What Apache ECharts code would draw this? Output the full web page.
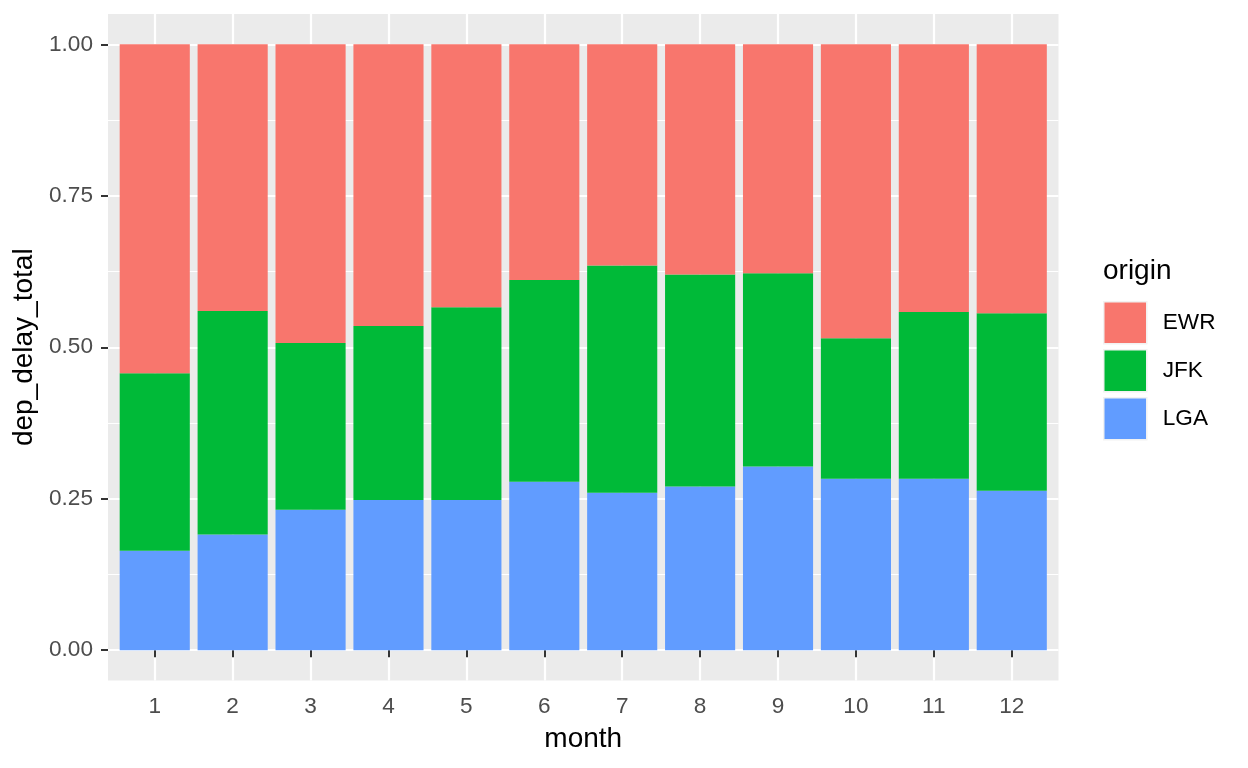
<!DOCTYPE html>
<html>
<head>
<meta charset="utf-8">
<script src="https://cdn.jsdelivr.net/npm/echarts@6/dist/echarts.min.js"></script>
<style>
html, body { margin: 0; padding: 0; background: #fff; }
#chart { width: 1248px; height: 768px; }
</style>
</head>
<body>
<div id="chart"></div>
<script>
// data (share of dep_delay_total per origin)
var months = ['1', '2', '3', '4', '5', '6', '7', '8', '9', '10', '11', '12'];
var monthTicks = [1, 2, 3, 4, 5, 6, 7, 8, 9, 10, 11, 12];
var origins = ['EWR', 'JFK', 'LGA'];
var lga = [0.164, 0.191, 0.232, 0.248, 0.248, 0.278, 0.260, 0.270, 0.303, 0.283, 0.283, 0.263];
var jfk = [0.293, 0.369, 0.275, 0.287, 0.318, 0.333, 0.375, 0.350, 0.319, 0.232, 0.275, 0.293];
var ewr = [0.543, 0.440, 0.493, 0.465, 0.434, 0.389, 0.365, 0.380, 0.378, 0.485, 0.442, 0.444];
var yMajor = [0, 0.25, 0.5, 0.75, 1];
var yMinor = [0.125, 0.375, 0.625, 0.875];

var colors = { EWR: '#F8766D', JFK: '#00BA38', LGA: '#619CFF' };
var font = '"Liberation Sans", Arial, sans-serif';

// panel geometry (ggplot expands discrete x by 0.6, continuous y by 5%)
var panelLeft = 108, panelTop = 14, panelWidth = 950.5, panelHeight = 666.5;
var unit = panelWidth / (months.length + 0.2);
var innerLeft = panelLeft + 0.1 * unit;
var innerWidth = unit * months.length;

var myChart = echarts.init(document.getElementById('chart'));

var option = {
    animation: false,
    backgroundColor: '#ffffff',
    title: {
        text: 'origin',
        left: 1103,
        top: 257,
        padding: 0,
        textStyle: { fontFamily: font, fontSize: 28, fontWeight: 'normal', color: '#000' }
    },
    legend: {
        data: origins,
        orient: 'vertical',
        left: 1103,
        top: 301,
        padding: 0,
        itemWidth: 43,
        itemHeight: 42,
        itemGap: 4.5,
        icon: 'rect',
        selectedMode: false,
        itemStyle: { borderColor: '#F2F2F2', borderWidth: 1.5 },
        textStyle: { fontFamily: font, fontSize: 22.6, color: '#000', padding: [0, 0, 0, 11] }
    },
    grid: [
        {
            left: panelLeft, top: panelTop, width: panelWidth, height: panelHeight,
            show: true, backgroundColor: '#EBEBEB', borderWidth: 0
        },
        {
            left: innerLeft, top: panelTop, width: innerWidth, height: panelHeight
        }
    ],
    xAxis: [
        {
            type: 'value',
            gridIndex: 0,
            min: 0.4,
            max: 12.6,
            name: 'month',
            nameLocation: 'middle',
            nameGap: 45,
            nameTextStyle: { fontFamily: font, fontSize: 28, color: '#000' },
            axisLine: { show: false },
            axisTick: { show: true, length: 7, customValues: monthTicks, lineStyle: { color: '#333333', width: 2 } },
            axisLabel: { customValues: monthTicks, margin: 15, fontFamily: font, fontSize: 22.6, color: '#4D4D4D' },
            splitLine: { show: true, lineStyle: { color: '#ffffff', width: 2.2 } }
        },
        {
            type: 'category',
            gridIndex: 1,
            data: months,
            show: false
        }
    ],
    yAxis: [
        {
            type: 'value',
            gridIndex: 0,
            min: -0.05,
            max: 1.05,
            name: 'dep_delay_total',
            nameLocation: 'middle',
            nameGap: 65,
            nameRotate: 90,
            nameTextStyle: { fontFamily: font, fontSize: 28, color: '#000' },
            axisLine: { show: false },
            axisTick: { show: true, length: 7, customValues: yMajor, lineStyle: { color: '#333333', width: 2 } },
            axisLabel: {
                customValues: yMajor,
                margin: 15,
                fontFamily: font,
                fontSize: 22.6,
                color: '#4D4D4D',
                formatter: function (v) { return v.toFixed(2); }
            },
            splitLine: { show: true, lineStyle: { color: '#ffffff', width: 2.2 } }
        },
        {
            type: 'value',
            gridIndex: 0,
            min: -0.05,
            max: 1.05,
            axisLine: { show: false },
            axisTick: { show: false, customValues: yMinor },
            axisLabel: { show: false },
            splitLine: { show: true, lineStyle: { color: '#ffffff', width: 1.1 } }
        },
        {
            type: 'value',
            gridIndex: 1,
            min: -0.05,
            max: 1.05,
            show: false,
            splitLine: { show: false }
        }
    ],
    series: [
        { name: 'LGA', type: 'bar', stack: 'total', xAxisIndex: 1, yAxisIndex: 2, barWidth: '90%', itemStyle: { color: colors.LGA }, data: lga },
        { name: 'JFK', type: 'bar', stack: 'total', xAxisIndex: 1, yAxisIndex: 2, barWidth: '90%', itemStyle: { color: colors.JFK }, data: jfk },
        { name: 'EWR', type: 'bar', stack: 'total', xAxisIndex: 1, yAxisIndex: 2, barWidth: '90%', itemStyle: { color: colors.EWR }, data: ewr }
    ]
};
myChart.setOption(option);
</script>
</body>
</html>
